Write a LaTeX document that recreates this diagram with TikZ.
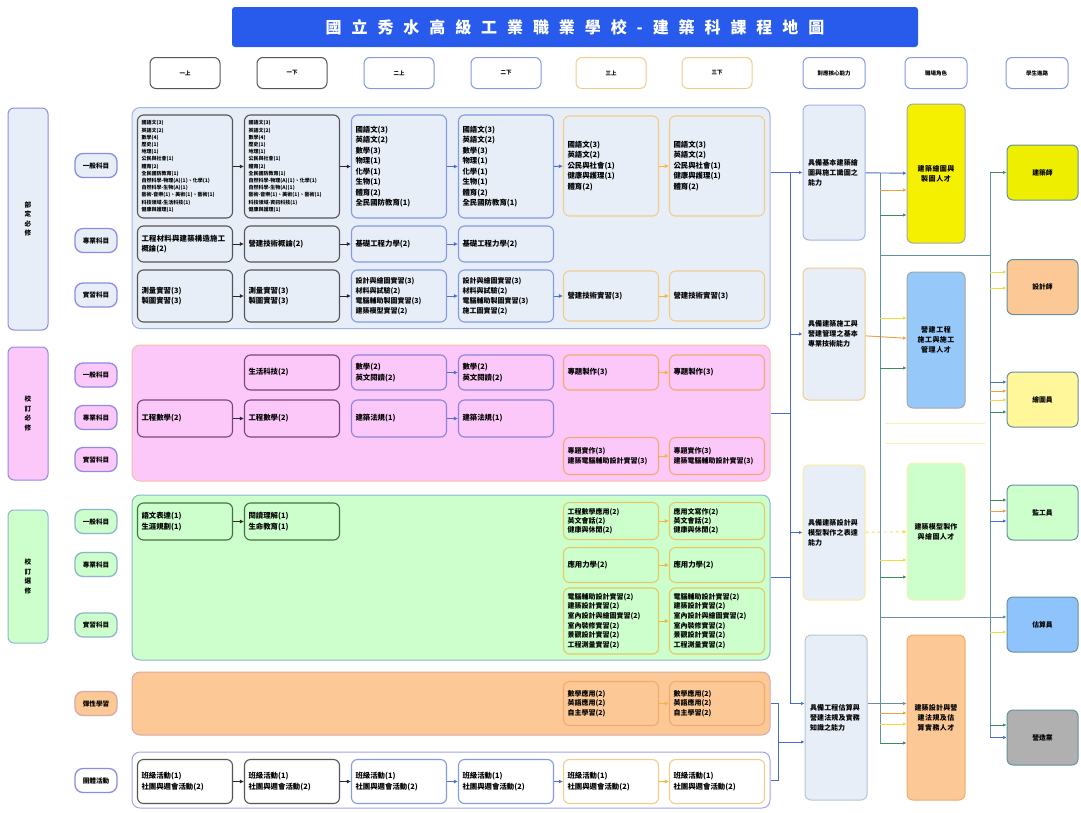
\documentclass[tikz,border=0pt]{standalone}
\usepackage{fontspec}
\setmainfont{Noto Sans CJK TC}
\XeTeXlinebreaklocale "zh"
\XeTeXlinebreakskip = 0pt plus 1pt
\usetikzlibrary{positioning, calc, arrows.meta}

\begin{document}
\begin{tikzpicture}[x=1pt, y=-1pt,
    course/.style={draw, rounded corners=6pt, line width=1.1pt, text width=87pt, inner sep=4pt, align=left, font=\fontsize{7.4}{10.5}\selectfont\bfseries},
    tiny/.style={font=\fontsize{5}{7.2}\selectfont\bfseries},
    hdr/.style={draw, rounded corners=6pt, line width=1pt, fill=white, minimum width=70pt, minimum height=31pt, font=\fontsize{5.5}{6}\selectfont\bfseries},
    pill/.style={draw=pillb, rounded corners=8pt, line width=1.3pt, minimum width=42pt, minimum height=24pt, inner sep=1pt, font=\fontsize{6.6}{7}\selectfont\bfseries},
    side/.style={draw=pillb, rounded corners=6pt, line width=1pt, minimum width=40pt, inner sep=1pt, align=center, font=\fontsize{6.6}{9.5}\selectfont\bfseries},
    sect/.style={draw, rounded corners=8pt, line width=1pt, minimum width=638pt, inner sep=0pt},
    comp/.style={draw, rounded corners=6pt, line width=1pt, fill=secblue, minimum width=62pt, text width=52pt, inner sep=5pt, align=left, font=\fontsize{7}{10}\selectfont\bfseries},
    role/.style={draw=gray!70, rounded corners=6pt, line width=1pt, minimum width=58pt, text width=48pt, inner sep=5pt, align=center, font=\fontsize{7}{10}\selectfont\bfseries},
    goal/.style={draw=lteal, rounded corners=6pt, line width=1pt, minimum width=71pt, minimum height=55pt, font=\fontsize{6.8}{7}\selectfont\bfseries},
    arr/.style={-{Latex[length=4pt,width=4pt]}, line width=1pt},
    link/.style={line width=0.9pt},
    stub/.style={-{Latex[length=3.5pt,width=3.5pt]}, line width=0.9pt},
]
    % màu
    \definecolor{titleblue}{RGB}{40, 90, 235}
    \definecolor{secblue}{RGB}{232, 238, 248}
    \definecolor{secblueb}{RGB}{160, 180, 225}
    \definecolor{secpink}{RGB}{252, 200, 250}
    \definecolor{secpinkb}{RGB}{245, 190, 165}
    \definecolor{secgreen}{RGB}{204, 255, 204}
    \definecolor{secgreenb}{RGB}{140, 180, 205}
    \definecolor{secorange}{RGB}{252, 200, 150}
    \definecolor{secorangeb}{RGB}{215, 170, 165}
    \definecolor{pillb}{RGB}{140, 140, 225}
    \definecolor{cdark}{RGB}{85, 85, 85}
    \definecolor{cblueb}{RGB}{130, 155, 225}
    \definecolor{ctan}{RGB}{240, 205, 140}
    \definecolor{cpurp}{RGB}{120, 70, 120}
    \definecolor{cpurpb}{RGB}{140, 130, 220}
    \definecolor{corgb}{RGB}{240, 170, 110}
    \definecolor{cgrnd}{RGB}{70, 110, 70}
    \definecolor{cylwb}{RGB}{230, 200, 100}
    \definecolor{adark}{RGB}{40, 40, 40}
    \definecolor{ablue}{RGB}{80, 110, 210}
    \definecolor{aorange}{RGB}{245, 180, 60}
    \definecolor{lteal}{RGB}{100, 145, 155}
    \definecolor{cblu}{RGB}{70, 110, 200}
    \definecolor{corg}{RGB}{240, 160, 60}
    \definecolor{cylw}{RGB}{240, 220, 60}
    \definecolor{cgrn}{RGB}{60, 140, 90}

    \useasboundingbox (0,0) rectangle (1081,812);
    \fill[white] (0,0) rectangle (1081,812);

    % tiêu đề
    \node[fill=titleblue, rounded corners=3pt, minimum width=686pt, minimum height=40pt, text=white,
          font=\fontsize{16}{16}\selectfont\bfseries\addfontfeatures{LetterSpace=62}] (title) at (575,27)
          {國立秀水高級工業職業學校-建築科課程地圖};

    % hàng tiêu đề cột
    \node[hdr, draw=cdark] (h1) at (185,73) {一上};
    \node[hdr, draw=cdark] (h2) at (292,73) {一下};
    \node[hdr, draw=cblueb] (h3) at (399,73) {二上};
    \node[hdr, draw=cblueb] (h4) at (506,73) {二下};
    \node[hdr, draw=ctan] (h5) at (611,73) {三上};
    \node[hdr, draw=ctan] (h6) at (717,73) {三下};
    \node[hdr, draw=cblueb, minimum width=62pt] (h7) at (834,73) {對應核心能力};
    \node[hdr, draw=cblueb, minimum width=62pt] (h8) at (936,73) {職場角色};
    \node[hdr, draw=cblueb, minimum width=62pt] (h9) at (1037,73) {學生進路};

    % các khối nền
    \node[sect, fill=secblue, draw=secblueb, minimum height=221pt] (secA) at (451,218) {};
    \node[sect, fill=secpink, draw=secpinkb, minimum height=136pt] (secB) at (451,413) {};
    \node[sect, fill=secgreen, draw=secgreenb, minimum height=165pt] (secC) at (451,577.5) {};
    \node[sect, fill=secorange, draw=secorangeb, minimum height=63pt] (secD) at (451,703.5) {};
    \node[sect, fill=white, draw=pillb!80, minimum height=56pt] (secE) at (451,780) {};

    % nhãn bên trái
    \node[side, fill=secblue, minimum height=222pt] (sA) at (28,219) {部\\定\\必\\修};
    \node[side, fill=secpink, minimum height=133pt] (sB) at (28,413.5) {校\\訂\\必\\修};
    \node[side, fill=secgreen, draw=secgreenb, minimum height=133pt] (sC) at (28,576.5) {校\\訂\\選\\修};

    \node[pill, fill=secblue] (pA1) at (96,165.5) {一般科目};
    \node[pill, fill=secblue] (pA2) at (96,240.5) {專業科目};
    \node[pill, fill=secblue] (pA3) at (96,295) {實習科目};
    \node[pill, fill=secpink] (pB1) at (96,375) {一般科目};
    \node[pill, fill=secpink] (pB2) at (96,417.5) {專業科目};
    \node[pill, fill=secpink] (pB3) at (96,459.5) {實習科目};
    \node[pill, fill=secgreen, draw=secgreenb] (pC1) at (96,521.5) {一般科目};
    \node[pill, fill=secgreen, draw=secgreenb] (pC2) at (96,564.5) {專業科目};
    \node[pill, fill=secgreen, draw=secgreenb] (pC3) at (96,625) {實習科目};
    \node[pill, fill=secorange, draw=secorangeb] (pD) at (96,703.5) {彈性學習};
    \node[pill, fill=white] (pE) at (96,780.5) {團體活動};

    % 部定必修 - 一般科目
    \node[course, tiny, draw=cdark, minimum height=103pt] (a11) at (185,166.5)
        {國語文(3)\\英語文(2)\\數學(4)\\歷史(1)\\地理(1)\\公民與社會(1)\\體育(2)\\全民國防教育(1)\\自然科學-物理(A)(1)、化學(1)\\自然科學-生物(A)(1)\\藝術-音樂(1)、美術(1)、藝術(1)\\科技領域-生活科技(1)\\健康與護理(1)};
    \node[course, tiny, draw=cdark, minimum height=103pt] (a12) at (292,166.5)
        {國語文(3)\\英語文(2)\\數學(4)\\歷史(1)\\地理(1)\\公民與社會(1)\\體育(2)\\全民國防教育(1)\\自然科學-物理(A)(1)、化學(1)\\自然科學-生物(A)(1)\\藝術-音樂(1)、美術(1)、藝術(1)\\科技領域-資訊科技(1)\\健康與護理(1)};
    \node[course, draw=cblueb, minimum height=103pt] (a13) at (399,166.5)
        {國語文(3)\\英語文(2)\\數學(3)\\物理(1)\\化學(1)\\生物(1)\\體育(2)\\全民國防教育(1)};
    \node[course, draw=cblueb, minimum height=103pt] (a14) at (506,166.5)
        {國語文(3)\\英語文(2)\\數學(3)\\物理(1)\\化學(1)\\生物(1)\\體育(2)\\全民國防教育(1)};
    \node[course, draw=ctan, minimum height=100pt] (a15) at (611,166)
        {國語文(3)\\英語文(2)\\公民與社會(1)\\健康與護理(1)\\體育(2)};
    \node[course, draw=ctan, minimum height=100pt] (a16) at (717,166)
        {國語文(3)\\英語文(2)\\公民與社會(1)\\健康與護理(1)\\體育(2)};
    \draw[arr, adark] (a11) -- (a12);
    \draw[arr, adark] (a12) -- (a13);
    \draw[arr, ablue] (a13) -- (a14);
    \draw[arr, ablue] (a14) -- (a15);
    \draw[arr, aorange] (a15) -- (a16);

    % 部定必修 - 專業科目
    \node[course, draw=cdark, minimum height=36pt] (a21) at (185,244) {工程材料與建築構造施工概論(2)};
    \node[course, draw=cdark, minimum height=36pt] (a22) at (292,244) {營建技術概論(2)};
    \node[course, draw=cblueb, minimum height=36pt] (a23) at (399,244) {基礎工程力學(2)};
    \node[course, draw=cblueb, minimum height=36pt] (a24) at (506,244) {基礎工程力學(2)};
    \draw[arr, adark] (a21) -- (a22);
    \draw[arr, adark] (a22) -- (a23);
    \draw[arr, ablue] (a23) -- (a24);

    % 部定必修 - 實習科目
    \node[course, draw=cdark, minimum height=52pt] (a31) at (185,296) {測量實習(3)\\製圖實習(3)};
    \node[course, draw=cdark, minimum height=52pt] (a32) at (292,296) {測量實習(3)\\製圖實習(3)};
    \node[course, draw=cblueb, minimum height=52pt, font=\fontsize{7}{10}\selectfont\bfseries] (a33) at (399,296)
        {設計與繪圖實習(3)\\材料與試驗(2)\\電腦輔助製圖實習(3)\\建築模型實習(2)};
    \node[course, draw=cblueb, minimum height=52pt, font=\fontsize{7}{10}\selectfont\bfseries] (a34) at (506,296)
        {設計與繪圖實習(3)\\材料與試驗(2)\\電腦輔助製圖實習(3)\\施工圖實習(2)};
    \node[course, draw=ctan, minimum height=50pt] (a35) at (611,296) {營建技術實習(3)};
    \node[course, draw=ctan, minimum height=50pt] (a36) at (717,296) {營建技術實習(3)};
    \draw[arr, adark] (a31) -- (a32);
    \draw[arr, adark] (a32) -- (a33);
    \draw[arr, ablue] (a33) -- (a34);
    \draw[arr, ablue] (a34) -- (a35);
    \draw[arr, aorange] (a35) -- (a36);

    % 校訂必修
    \node[course, draw=cpurp, minimum height=35pt] (b12) at (292,372.5) {生活科技(2)};
    \node[course, draw=cpurpb, minimum height=35pt] (b13) at (399,372.5) {數學(2)\\英文閱讀(2)};
    \node[course, draw=cpurpb, minimum height=35pt] (b14) at (506,372.5) {數學(2)\\英文閱讀(2)};
    \node[course, draw=corgb, minimum height=35pt] (b15) at (611,372.5) {專題製作(3)};
    \node[course, draw=corgb, minimum height=35pt] (b16) at (717,372.5) {專題製作(3)};
    \draw[arr, ablue] (b13) -- (b14);
    \draw[arr, aorange] (b15) -- (b16);

    \node[course, draw=cpurp, minimum height=37pt] (b21) at (185,418.5) {工程數學(2)};
    \node[course, draw=cpurp, minimum height=37pt] (b22) at (292,418.5) {工程數學(2)};
    \node[course, draw=cpurpb, minimum height=37pt] (b23) at (399,418.5) {建築法規(1)};
    \node[course, draw=cpurpb, minimum height=37pt] (b24) at (506,418.5) {建築法規(1)};
    \draw[arr, adark] (b21) -- (b22);
    \draw[arr, ablue] (b23) -- (b24);

    \node[course, draw=corgb, minimum height=37pt, font=\fontsize{7}{10}\selectfont\bfseries] (b35) at (611,456) {專題實作(3)\\建築電腦輔助設計實習(3)};
    \node[course, draw=corgb, minimum height=37pt, font=\fontsize{7}{10}\selectfont\bfseries] (b36) at (717,456) {專題實作(3)\\建築電腦輔助設計實習(3)};
    \draw[arr, aorange] (b35) -- (b36);

    % 校訂選修
    \node[course, draw=cgrnd, minimum height=37pt] (c11) at (185,521.5) {語文表達(1)\\生涯規劃(1)};
    \node[course, draw=cgrnd, minimum height=37pt] (c12) at (292,521.5) {閱讀理解(1)\\生命教育(1)};
    \node[course, draw=cylwb, minimum height=37pt, font=\fontsize{7}{9}\selectfont\bfseries] (c15) at (611,521)
        {工程數學應用(2)\\英文會話(2)\\健康與休閒(2)};
    \node[course, draw=cylwb, minimum height=37pt, font=\fontsize{7}{9}\selectfont\bfseries] (c16) at (717,521)
        {應用文寫作(2)\\英文會話(2)\\健康與休閒(2)};
    \draw[arr, adark] (c11) -- (c12);
    \draw[arr, aorange] (c15) -- (c16);

    \node[course, draw=cylwb, minimum height=35pt] (c25) at (611,565) {應用力學(2)};
    \node[course, draw=cylwb, minimum height=35pt] (c26) at (717,565) {應用力學(2)};
    \draw[arr, aorange] (c25) -- (c26);

    \node[course, draw=cylwb, minimum height=66pt, font=\fontsize{7}{9.6}\selectfont\bfseries] (c35) at (611,621)
        {電腦輔助設計實習(2)\\建築設計實習(2)\\室內設計與繪圖實習(2)\\室內裝修實習(2)\\景觀設計實習(2)\\工程測量實習(2)};
    \node[course, draw=cylwb, minimum height=66pt, font=\fontsize{7}{9.6}\selectfont\bfseries] (c36) at (717,621)
        {電腦輔助設計實習(2)\\建築設計實習(2)\\室內設計與繪圖實習(2)\\室內裝修實習(2)\\景觀設計實習(2)\\工程測量實習(2)};
    \draw[arr, aorange] (c35) -- (c36);

    % 彈性學習
    \node[course, draw=corgb, minimum height=44pt, font=\fontsize{7}{9.5}\selectfont\bfseries] (d5) at (611,703.5)
        {數學應用(2)\\英語應用(2)\\自主學習(2)};
    \node[course, draw=corgb, minimum height=44pt, font=\fontsize{7}{9.5}\selectfont\bfseries] (d6) at (717,703.5)
        {數學應用(2)\\英語應用(2)\\自主學習(2)};
    \draw[arr, aorange] (d5) -- (d6);

    % 團體活動
    \node[course, draw=cdark, minimum height=44pt] (e1) at (185,781.5) {班級活動(1)\\社團與週會活動(2)};
    \node[course, draw=cdark, minimum height=44pt] (e2) at (292,781.5) {班級活動(1)\\社團與週會活動(2)};
    \node[course, draw=cblueb, minimum height=44pt] (e3) at (399,781.5) {班級活動(1)\\社團與週會活動(2)};
    \node[course, draw=cblueb, minimum height=44pt] (e4) at (506,781.5) {班級活動(1)\\社團與週會活動(2)};
    \node[course, draw=ctan, minimum height=44pt] (e5) at (611,781.5) {班級活動(1)\\社團與週會活動(2)};
    \node[course, draw=ctan, minimum height=44pt] (e6) at (717,781.5) {班級活動(1)\\社團與週會活動(2)};
    \draw[arr, adark] (e1) -- (e2);
    \draw[arr, adark] (e2) -- (e3);
    \draw[arr, ablue] (e3) -- (e4);
    \draw[arr, ablue] (e4) -- (e5);
    \draw[arr, aorange] (e5) -- (e6);

    % 核心能力
    \node[comp, draw=secblueb, minimum height=135pt] (k1) at (834,172.5) {具備基本建築繪圖與施工識圖之能力};
    \node[comp, draw=ctan, minimum height=132pt] (k2) at (834,334) {具備建築施工與營建管理之基本專業技術能力};
    \node[comp, draw=cylw!50, minimum height=135pt] (k3) at (834,532.5) {具備建築設計與模型製作之表達能力};
    \node[comp, draw=lteal!50, minimum height=165pt] (k4) at (836,717.5) {具備工程估算與營建法規及實務知識之能力};

    % 職場角色
    \node[role, fill={rgb,255:red,245;green,240;blue,0}, minimum height=139pt] (r1) at (936,173.5) {建築繪圖與製圖人才};
    \node[role, fill={rgb,255:red,150;green,200;blue,250}, minimum height=136pt] (r2) at (936,340) {營建工程施工與施工管理人才};
    \node[role, fill=secgreen, draw=cylw!40, minimum height=137pt] (r3) at (936,531.5) {建築模型製作與繪圖人才};
    \node[role, fill=secorange, draw=corgb, minimum height=165pt] (r4) at (936,717.5) {建築設計與營建法規及估算實務人才};

    % 學生進路
    \node[goal, fill={rgb,255:red,238;green,238;blue,0}] (g1) at (1042.5,172.5) {建築師};
    \node[goal, fill=secorange] (g2) at (1042.5,287) {設計師};
    \node[goal, fill={rgb,255:red,255;green,247;blue,153}] (g3) at (1042.5,399.5) {繪圖員};
    \node[goal, fill=secgreen] (g4) at (1042.5,512.5) {監工員};
    \node[goal, fill={rgb,255:red,143;green,195;blue,251}] (g5) at (1042.5,624.5) {估算員};
    \node[goal, fill={rgb,255:red,176;green,176;blue,176}] (g6) at (1042.5,737.5) {營造業};

    % các đường nối: khối nền -> 核心能力
    \coordinate (busA) at (790,0);
    \coordinate (busB) at (880,0);
    \coordinate (busC) at (990,0);
    \coordinate (jct) at (778,742);
    \draw[link, cblu, stub] (k1 -| secA.east) -- (k1.west);
    \draw[link, cblu] (k1 -| busA) -- (secD.east -| busA);
    \draw[link, cblu] (secB.east) -- (secB.east -| busA);
    \draw[link, cblu] (secC.east) -- (secC.east -| busA);
    \draw[stub, cblu] (k2 -| busA) -- (k2.west);
    \draw[stub, cblu] (k3 -| busA) -- (k3.west);
    \draw[stub, cblu] (secD.east -| busA) -- (secD.east -| k4.west);
    \draw[link, cblu] (secD.east) -| (jct) |- (secE.east);
    \draw[stub, cblu] (jct) -- (jct -| k4.west);

    % 核心能力 -> 職場角色
    \draw[stub, cblu] (k1) -- (r1);
    \draw[stub, corg] (k2) -- (r2);
    \draw[stub, cylw, dashed] (k3) -- (r3);
    \draw[stub, lteal] (k4.east |- secD.east) -- (r4.west |- secD.east);
    \draw[link, lteal] (busB |- 0,172.5) -- (busB |- 0,743);
    \foreach \nd/\yy/\cc in {r1/190/corg, r1/215/cgrn, r2/318/cylw, r2/368/cgrn,
                             r3/560/cylw, r3/577/cgrn, r4/713/corg, r4/724/cylw, r4/743/cgrn} {
        \draw[stub, \cc] (busB |- 0,\yy) -- (\nd.west |- 0,\yy);
    }
    \draw[link, cylw!40] (885,423) -- (985,423);
    \draw[link, cylw!40] (885,443) -- (985,443);

    % 職場角色 -> 學生進路
    \draw[link, lteal] (busB |- 0,255) -- (busC |- 0,255);
    \draw[stub, lteal] (busB |- 0,617) -- (g5.west |- 0,617);
    \draw[link, lteal] (busC |- 0,172.5) -- (busC |- 0,737.5);
    \foreach \nd/\yy/\cc in {g1/172.5/cgrn, g2/272/cylw, g2/288/cylw, g3/382/cblu, g3/391/corg,
                             g3/400/cylw, g3/412/cgrn, g4/500/cgrn, g4/511/corg, g4/521/cblu,
                             g5/632/cylw, g6/725/cgrn, g6/737.5/cblu} {
        \draw[stub, \cc] (busC |- 0,\yy) -- (\nd.west |- 0,\yy);
    }

\end{tikzpicture}
\end{document}
